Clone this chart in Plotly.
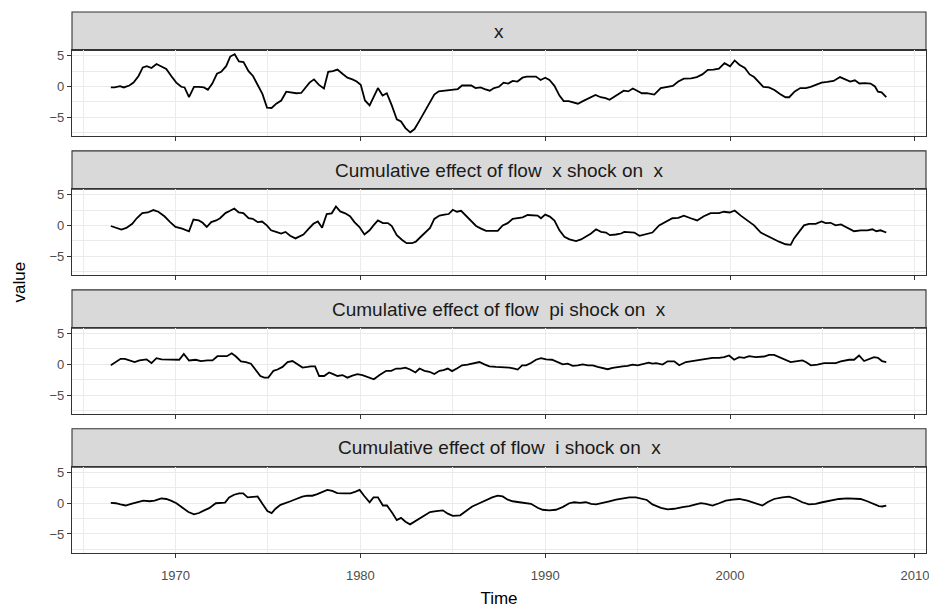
import plotly.graph_objects as go

# ---------------- data ----------------
titles = ["x",
          "Cumulative effect of flow  x shock on  x",
          "Cumulative effect of flow  pi shock on  x",
          "Cumulative effect of flow  i shock on  x"]

t1 = [1966.5,1966.7,1967.0,1967.2,1967.5,1967.73,1968.0,1968.23,1968.45,1968.7,1968.97,1969.24,1969.5,1969.77,1970.04,1970.31,1970.49,1970.73,1971.0,1971.27,1971.54,1971.75,1971.99,1972.24,1972.47,1972.74,1972.96,1973.2,1973.43,1973.68,1973.95,1974.19,1974.46,1974.7,1974.95,1975.2,1975.45,1975.72,1975.99,1976.26,1976.53,1976.8,1977.04,1977.25,1977.49,1977.76,1978.03,1978.26,1978.51,1978.76,1979.03,1979.3,1979.57,1979.8,1980.02,1980.25,1980.5,1980.73,1980.95,1981.2,1981.43,1981.7,1981.97,1982.2,1982.44,1982.7,1982.93,1983.2,1983.47,1983.74,1984.0,1984.24,1984.5,1984.8,1985.0,1985.27,1985.5,1985.75,1986.0,1986.23,1986.5,1986.73,1987.0,1987.23,1987.5,1987.75,1988.0,1988.24,1988.5,1988.77,1989.0,1989.28,1989.5,1989.75,1990.0,1990.23,1990.5,1990.77,1991.0,1991.27,1991.5,1991.77,1992.04,1992.3,1992.5,1992.72,1993.0,1993.27,1993.48,1993.77,1994.02,1994.25,1994.49,1994.74,1994.97,1995.23,1995.5,1995.9,1996.25,1996.55,1996.9,1997.2,1997.5,1997.9,1998.2,1998.5,1998.8,1999.1,1999.4,1999.7,2000.0,2000.25,2000.5,2000.8,2001.06,2001.3,2001.57,2001.8,2002.1,2002.4,2002.7,2003.0,2003.2,2003.5,2003.8,2004.1,2004.36,2004.6,2004.95,2005.26,2005.6,2005.95,2006.2,2006.5,2006.75,2007.0,2007.3,2007.6,2007.84,2008.0,2008.2,2008.45]
v1 = [-0.16,-0.16,0.05,-0.16,0.16,0.63,1.7,3.1,3.3,3.0,3.65,3.2,2.86,1.7,0.63,-0.05,-0.16,-1.75,-0.05,-0.05,-0.16,-0.53,0.48,2.06,2.38,3.3,4.87,5.24,4.07,3.97,2.5,1.7,0.1,-1.2,-3.44,-3.5,-2.8,-2.28,-0.85,-0.95,-1.1,-1.06,-0.16,0.63,1.16,0.26,-0.32,2.38,2.5,2.75,2.06,1.43,1.16,0.8,0.26,-2.28,-3.07,-1.75,-0.26,-1.48,-1.1,-3.07,-5.34,-5.7,-6.77,-7.46,-6.93,-5.56,-4.13,-2.7,-1.32,-0.8,-0.69,-0.58,-0.58,-0.42,0.16,0.1,0.16,-0.26,-0.16,-0.42,-0.69,-0.26,-0.05,0.63,0.48,0.9,0.8,1.43,1.6,1.6,1.6,1.06,1.43,1.06,0.1,-1.48,-2.38,-2.38,-2.54,-2.8,-2.38,-2.0,-1.75,-1.38,-1.75,-1.9,-2.17,-1.59,-1.22,-0.69,-0.8,-0.32,-0.69,-1.1,-1.1,-1.32,-0.26,-0.05,0.1,0.8,1.27,1.32,1.53,1.96,2.7,2.75,2.9,3.8,3.28,4.23,3.54,3.0,1.96,1.53,0.63,-0.05,-0.16,-0.58,-1.22,-1.75,-1.75,-0.8,-0.26,-0.26,-0.05,0.26,0.63,0.74,0.9,1.53,1.16,0.8,1.0,0.48,0.53,0.48,0.0,-0.85,-0.95,-1.75]

t2 = [1966.5,1966.8,1967.07,1967.34,1967.66,1967.9,1968.2,1968.5,1968.8,1969.07,1969.4,1969.71,1970.0,1970.36,1970.73,1970.97,1971.26,1971.47,1971.69,1971.93,1972.2,1972.41,1972.7,1972.95,1973.18,1973.42,1973.67,1973.95,1974.18,1974.45,1974.68,1974.94,1975.17,1975.44,1975.71,1975.95,1976.2,1976.49,1976.7,1976.92,1977.21,1977.46,1977.7,1977.93,1978.18,1978.45,1978.68,1978.91,1979.18,1979.44,1979.68,1979.95,1980.22,1980.5,1980.71,1980.95,1981.22,1981.49,1981.7,1981.97,1982.26,1982.5,1982.79,1983.0,1983.27,1983.54,1983.77,1984.0,1984.28,1984.55,1984.78,1985.0,1985.22,1985.45,1985.72,1986.0,1986.26,1986.53,1986.8,1987.07,1987.43,1987.7,1987.97,1988.24,1988.51,1988.78,1989.05,1989.32,1989.59,1989.77,1990.0,1990.25,1990.5,1990.77,1991.04,1991.31,1991.67,1991.94,1992.21,1992.48,1992.75,1993.02,1993.29,1993.5,1993.82,1994.1,1994.28,1994.55,1994.82,1995.1,1995.45,1995.8,1996.16,1996.5,1996.88,1997.2,1997.5,1997.87,1998.22,1998.58,1998.95,1999.4,1999.67,1999.98,2000.25,2000.58,2000.94,2001.3,2001.66,2002.0,2002.32,2002.65,2003.0,2003.28,2003.46,2003.73,2004.0,2004.27,2004.63,2004.95,2005.17,2005.44,2005.71,2006.0,2006.35,2006.71,2007.07,2007.43,2007.7,2007.91,2008.14,2008.45]
v2 = [-0.1,-0.42,-0.69,-0.42,0.26,1.16,2.0,2.1,2.49,2.22,1.48,0.53,-0.26,-0.53,-0.95,0.95,0.8,0.42,-0.26,0.53,0.8,1.16,2.0,2.38,2.75,2.1,2.0,1.16,1.06,0.53,0.63,0.0,-0.8,-1.06,-1.32,-1.06,-1.69,-2.12,-1.85,-1.48,-0.53,0.26,0.63,-0.37,1.85,1.96,3.07,2.28,1.96,1.48,0.53,-0.26,-1.48,-0.8,0.0,0.8,0.37,0.37,-0.1,-1.59,-2.38,-2.9,-2.9,-2.65,-1.85,-1.06,-0.42,1.06,1.59,1.75,1.85,2.54,2.22,2.38,1.59,0.8,-0.1,-0.53,-0.9,-0.9,-0.9,0.0,0.37,1.06,1.22,1.32,1.69,1.59,1.59,1.16,1.75,1.43,0.8,-0.8,-1.85,-2.28,-2.54,-2.28,-1.85,-1.32,-0.63,-1.06,-1.16,-1.59,-1.48,-1.32,-1.06,-1.16,-1.16,-1.69,-1.48,-1.16,0.0,0.53,1.16,1.22,1.59,1.16,0.8,1.48,2.0,2.0,2.22,2.1,2.43,1.59,0.8,0.0,-1.16,-1.69,-2.22,-2.65,-3.07,-3.17,-2.12,-1.06,0.0,0.26,0.26,0.63,0.37,0.42,0.0,0.16,-0.42,-0.95,-0.8,-0.8,-0.63,-0.95,-0.8,-1.16]

t3 = [1966.5,1966.78,1967.03,1967.26,1967.5,1967.79,1968.05,1968.43,1968.7,1968.97,1969.24,1969.6,1969.9,1970.2,1970.45,1970.73,1971.1,1971.37,1971.73,1972.0,1972.27,1972.54,1972.78,1973.04,1973.27,1973.54,1973.81,1974.08,1974.35,1974.59,1974.8,1975.02,1975.3,1975.52,1975.79,1976.06,1976.33,1976.6,1976.87,1977.14,1977.32,1977.55,1977.77,1978.04,1978.31,1978.53,1978.76,1979.03,1979.3,1979.57,1979.84,1980.11,1980.5,1980.73,1981.04,1981.4,1981.67,1981.94,1982.18,1982.44,1982.69,1982.98,1983.2,1983.47,1983.74,1984.0,1984.28,1984.5,1984.73,1984.96,1985.22,1985.5,1985.8,1986.11,1986.44,1986.71,1986.98,1987.34,1987.7,1988.06,1988.33,1988.51,1988.75,1988.96,1989.23,1989.5,1989.77,1990.05,1990.37,1990.68,1990.95,1991.22,1991.49,1991.76,1992.03,1992.3,1992.57,1992.84,1993.11,1993.38,1993.65,1993.92,1994.19,1994.46,1994.73,1995.0,1995.3,1995.6,1995.8,1996.0,1996.35,1996.62,1996.98,1997.25,1997.61,1997.97,1998.33,1998.69,1999.05,1999.41,1999.68,1999.95,2000.22,2000.49,2000.76,2001.03,2001.39,2001.84,2002.11,2002.38,2002.65,2002.92,2003.28,2003.64,2003.91,2004.1,2004.37,2004.73,2005.09,2005.45,2005.72,2005.99,2006.44,2006.71,2006.98,2007.25,2007.55,2007.79,2008.0,2008.22,2008.45]
v3 = [-0.16,0.37,0.9,0.9,0.63,0.37,0.63,0.8,0.2,1.0,0.8,0.8,0.74,0.74,1.7,0.63,0.74,0.53,0.63,0.63,1.32,1.32,1.32,1.8,1.27,0.48,0.37,0.1,-0.95,-1.9,-2.17,-2.17,-1.06,-0.85,-0.42,0.37,0.53,0.0,-0.53,-0.42,-0.32,-0.32,-1.9,-1.9,-1.32,-1.59,-1.9,-1.75,-2.17,-1.85,-1.59,-1.75,-2.17,-2.43,-1.75,-1.06,-1.06,-0.69,-0.69,-0.53,-0.85,-1.32,-0.69,-1.06,-1.22,-1.59,-1.06,-0.95,-0.69,-1.11,-0.69,-0.16,-0.05,0.1,0.37,0.0,-0.32,-0.42,-0.42,-0.53,-0.69,-0.85,-0.16,-0.16,0.2,0.74,1.0,0.8,0.74,0.37,0.0,0.1,-0.26,-0.16,0.0,-0.16,-0.16,-0.42,-0.58,-0.8,-0.58,-0.42,-0.32,-0.26,-0.05,-0.16,0.1,0.26,0.1,0.2,-0.05,0.48,0.48,-0.16,0.37,0.53,0.63,0.9,1.06,1.06,1.16,1.43,0.74,1.16,1.06,1.32,1.16,1.27,1.53,1.53,1.16,0.74,0.37,0.53,0.63,0.37,-0.16,-0.05,0.2,0.2,0.2,0.48,0.74,0.74,1.43,0.53,0.9,1.16,1.06,0.53,0.37,-0.26]

t4 = [1966.5,1966.77,1967.02,1967.3,1967.6,1967.9,1968.26,1968.6,1968.87,1969.23,1969.5,1969.75,1970.05,1970.38,1970.7,1971.0,1971.27,1971.55,1971.82,1972.18,1972.45,1972.68,1972.9,1973.17,1973.44,1973.66,1973.9,1974.17,1974.44,1974.7,1974.97,1975.2,1975.41,1975.68,1975.95,1976.22,1976.53,1976.86,1977.13,1977.4,1977.67,1977.94,1978.21,1978.48,1978.75,1979.11,1979.47,1979.74,1979.96,1980.2,1980.5,1980.71,1980.95,1981.22,1981.44,1981.73,1981.97,1982.2,1982.44,1982.69,1982.98,1983.29,1983.52,1983.77,1984.1,1984.46,1984.73,1985.0,1985.4,1985.72,1986.05,1986.44,1986.8,1987.13,1987.43,1987.7,1987.97,1988.24,1988.6,1988.96,1989.23,1989.59,1989.86,1990.22,1990.58,1990.94,1991.3,1991.57,1991.87,1992.2,1992.48,1992.75,1993.11,1993.47,1993.83,1994.19,1994.55,1994.91,1995.18,1995.5,1995.8,1996.26,1996.62,1996.98,1997.43,1997.79,1998.15,1998.42,1998.69,1999.05,1999.41,1999.77,2000.13,2000.49,2000.94,2001.35,2001.75,2002.02,2002.38,2002.83,2003.19,2003.55,2003.91,2004.27,2004.63,2004.99,2005.44,2005.89,2006.34,2006.79,2007.06,2007.42,2007.78,2008.05,2008.23,2008.45]
v4 = [0.05,0.0,-0.2,-0.37,-0.1,0.16,0.42,0.32,0.42,0.8,0.69,0.42,0.0,-0.74,-1.43,-1.8,-1.59,-1.16,-0.8,0.0,0.0,0.1,0.95,1.38,1.6,1.6,0.95,1.06,1.1,-0.1,-1.27,-1.6,-0.9,-0.26,0.0,0.32,0.69,1.06,1.22,1.22,1.48,1.85,2.17,2.0,1.64,1.6,1.6,1.9,2.17,1.22,0.16,0.95,0.95,-0.37,-0.37,-1.6,-2.75,-2.38,-3.0,-3.44,-2.9,-2.38,-1.96,-1.43,-1.27,-1.16,-1.7,-2.06,-1.96,-1.27,-0.53,0.0,0.53,0.95,1.22,1.1,0.58,0.32,0.16,0.05,-0.1,-0.74,-1.06,-1.16,-1.06,-0.63,0.0,0.16,0.05,0.16,-0.1,-0.2,0.0,0.32,0.58,0.8,0.95,0.95,0.8,0.53,-0.2,-0.74,-1.0,-0.9,-0.63,-0.48,-0.2,0.0,-0.1,-0.37,0.0,0.42,0.58,0.69,0.42,0.0,-0.37,0.16,0.69,0.95,1.06,0.69,0.16,-0.2,-0.1,0.16,0.42,0.69,0.8,0.8,0.69,0.32,-0.1,-0.48,-0.53,-0.37]

times = [t1, t2, t3, t4]
values = [v1, v2, v3, v4]

x_ticks = [1970, 1980, 1990, 2000, 2010]
y_ticks = [-5, 0, 5]

# ---------------- layout geometry (pixels, in figure coordinates) ----------------
W, H = 937, 612
top = 3.6            # top of first strip
strip_h = 38.4
plot_h = 86
pitch = 139.1
bottom_px = top + 3 * pitch + strip_h + plot_h
left, right_px = 64, 918
paper_h = bottom_px - top

def py(y):
    return min(1.0, max(0.0, (bottom_px - y) / paper_h))

fig = go.Figure()
line_col = "#333333"
grid_col = "#EBEBEB"
font_family = "Liberation Sans, Arial, Helvetica, sans-serif"

allv = [v for s in values for v in s]
vmin, vmax = min(allv), max(allv)
pad = 0.05 * (vmax - vmin)
yrng = [vmin - pad, vmax + pad]
tmin, tmax = 1966.5, 2008.5
xpad = 0.05 * (tmax - tmin)
xrng = [tmin - xpad, tmax + xpad]

shapes = []
annotations = []
for i in range(4):
    strip_top = top + i * pitch
    strip_bot = strip_top + strip_h
    panel_bot = strip_bot + plot_h
    sfx = "" if i == 0 else str(i + 1)
    fig.add_trace(go.Scatter(x=times[i], y=values[i], mode="lines",
                             line=dict(color="black", width=1.8),
                             xaxis="x" + sfx, yaxis="y" + sfx,
                             showlegend=False, hoverinfo="x+y"))
    dom = [py(panel_bot), py(strip_bot)]
    common = dict(showline=True, mirror=True, linecolor=line_col, linewidth=1.1,
                  showgrid=True, gridcolor=grid_col, gridwidth=1.3, zeroline=False,
                  ticks="outside", ticklen=4, tickcolor=line_col,
                  tickfont=dict(family=font_family, size=13, color="#4D4D4D"))
    xa = dict(common, domain=[0, 1], range=xrng, anchor="y" + sfx,
              tickvals=x_ticks, showticklabels=(i == 3),
              minor=dict(dtick=5, tick0=1965, showgrid=True, gridcolor=grid_col,
                         gridwidth=0.7, ticks=""))
    if i != 0:
        xa["matches"] = "x"
    ya = dict(common, domain=dom, range=yrng, anchor="x" + sfx,
              tickvals=y_ticks,
              minor=dict(dtick=2.5, tick0=0, showgrid=True, gridcolor=grid_col,
                         gridwidth=0.7, ticks=""))
    if i == 3:
        xa["ticklabelstandoff"] = 6
        xa["title"] = dict(text="Time", font=dict(family=font_family, size=17, color="black"),
                           standoff=10)
    fig.update_layout(**{"xaxis" + sfx: xa, "yaxis" + sfx: ya})
    shapes.append(dict(type="rect", xref="paper", yref="paper", x0=0, x1=1,
                       y0=py(strip_bot), y1=py(strip_top),
                       fillcolor="#D9D9D9", line=dict(color=line_col, width=1.1),
                       layer="below"))
    annotations.append(dict(text=titles[i], xref="paper", yref="paper", x=0.5,
                            y=(py(strip_bot) + py(strip_top)) / 2, showarrow=False,
                            xanchor="center", yanchor="middle",
                            font=dict(family=font_family, size=19, color="#1A1A1A")))

annotations.append(dict(text="value", xref="paper", yref="paper", x=-0.062, y=0.5,
                        textangle=-90, showarrow=False, xanchor="center", yanchor="middle",
                        font=dict(family=font_family, size=17, color="black")))

fig.update_layout(width=W, height=H, plot_bgcolor="white", paper_bgcolor="white",
                  margin=dict(l=left, r=W - right_px, t=top, b=H - bottom_px, pad=0,
                              autoexpand=False),
                  shapes=shapes, annotations=annotations, showlegend=False,
                  font=dict(family=font_family))

fig.write_html("out.html")
